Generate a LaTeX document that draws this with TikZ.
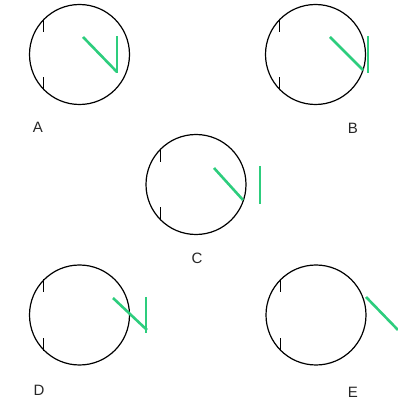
\documentclass[tikz,border=0pt]{standalone}
\usepackage{fontspec}
\setmainfont{Liberation Sans}
\usetikzlibrary{calc}
\definecolor{wire}{RGB}{45,205,125}
% one dial: circle with two notches on the left
\newcommand{\dial}[3]{%
    \node[face] (#1) at (#2,#3) {};
    \draw[notch] (#1.135) -- ++(0,-13);
    \draw[notch] (#1.225) -- ++(0,13);
}
\tikzset{
            face/.style={draw, circle, minimum size=100pt, inner sep=0pt, line width=1.2pt},
            notch/.style={line width=1.1pt},
            hand/.style={draw=wire, line width=2.6pt},
            letter/.style={font=\fontsize{15}{17}\selectfont, text=black!85}
        }

\begin{document}
\begin{tikzpicture}[x=1pt, y=1pt]
    \useasboundingbox (0,0) rectangle (398,405);
    \dial{dA}{79.5}{350.5}
    \dial{dB}{315.5}{350.5}
    \dial{dC}{196}{220.5}
    \dial{dD}{79.5}{90}
    \dial{dE}{316}{90}
    % green hands
    \draw[hand] ($(dA)+(3.5,17.5)$) -- ++(34,-35);
    \draw[hand] ($(dA)+(37.5,18)$) -- ++(0,-36.5);
    \draw[hand] ($(dB)+(14.5,17.5)$) -- ++(33,-33);
    \draw[hand] ($(dB)+(52.5,18.5)$) -- ++(0,-37);
    \draw[hand] ($(dC)+(18,16.5)$) -- ++(29,-32);
    \draw[hand] ($(dC)+(64,18.5)$) -- ++(0,-38);
    \draw[hand] ($(dD)+(33.5,17)$) -- ++(34,-32);
    \draw[hand] ($(dD)+(66.5,18)$) -- ++(0,-36);
    \draw[hand] ($(dE)+(50,18)$) -- ++(32,-33);
    \draw[hand] ($(dE)+(84,18)$) -- ++(0,-36);
    % letters
    \node[letter] (lA) at ($(dA)+(-41.5,-72.5)$) {A};
    \node[letter] (lB) at ($(dB)+(37.5,-73.5)$) {B};
    \node[letter] (lC) at ($(dC)+(1,-73.5)$) {C};
    \node[letter] (lD) at ($(dD)+(-40.5,-75)$) {D};
    \node[letter] (lE) at ($(dE)+(37,-77)$) {E};
\end{tikzpicture}
\end{document}
